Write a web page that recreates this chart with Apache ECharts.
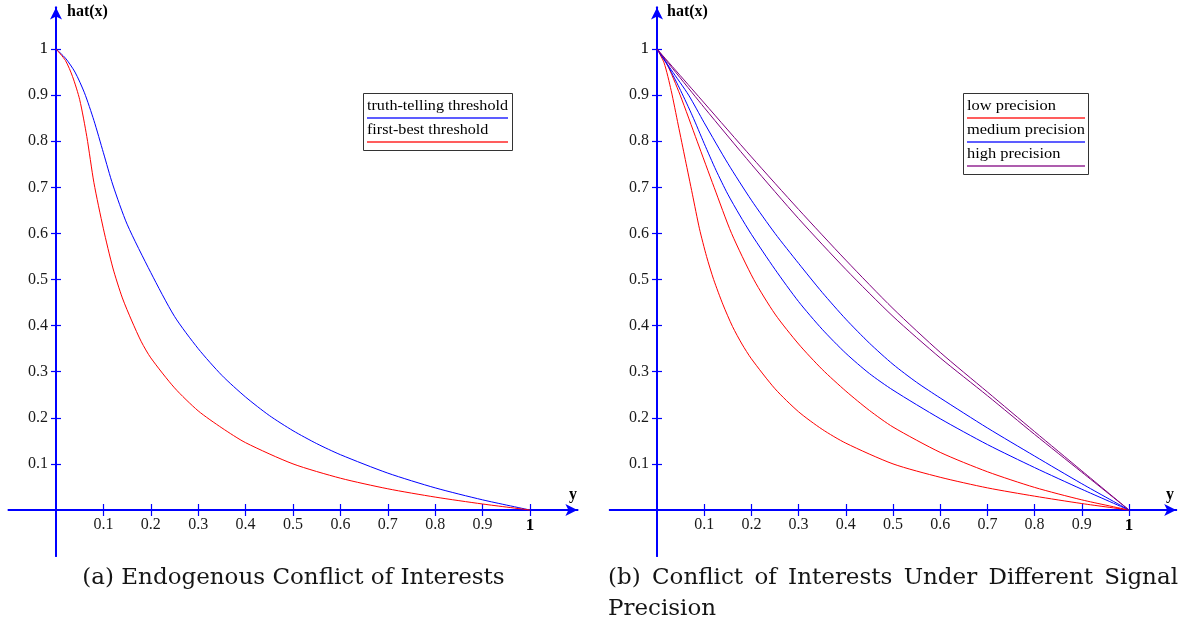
<!DOCTYPE html>
<html>
<head>
<meta charset="utf-8">
<script src="https://cdn.jsdelivr.net/npm/echarts@6/dist/echarts.min.js"></script>
<style>
html,body{margin:0;padding:0;background:#ffffff;}
#chart{width:1190px;height:630px;}
</style>
</head>
<body>
<div id="chart"></div>
<script>
// ---------- text ----------
const xTickLabels = ['0.1','0.2','0.3','0.4','0.5','0.6','0.7','0.8','0.9','1'];
const yTickLabels = ['0.1','0.2','0.3','0.4','0.5','0.6','0.7','0.8','0.9','1'];
const yAxisName = 'hat(x)';
const xAxisName = 'y';
const legendA = ['truth-telling threshold', 'first-best threshold'];
const legendB = ['low precision', 'medium precision', 'high precision'];
const captionA = '(a) Endogenous Conflict of Interests';
const captionB1 = '(b) Conflict of Interests Under Different Signal';
const captionB2 = 'Precision';

// ---------- data: panel (a)  [y, hat(x)] ----------
const truthTelling = [[0,1],[0.02,0.98],[0.04,0.95],[0.06,0.905],[0.08,0.845],[0.1,0.775],[0.12,0.705],[0.15,0.62],[0.2,0.515],[0.25,0.42],[0.3,0.35],[0.35,0.292],[0.4,0.245],[0.45,0.205],[0.5,0.172],[0.55,0.144],[0.6,0.12],[0.7,0.08],[0.8,0.048],[0.9,0.022],[1,0]];
const firstBest = [[0,1],[0.02,0.975],[0.035,0.94],[0.05,0.89],[0.065,0.81],[0.08,0.71],[0.1,0.61],[0.12,0.525],[0.14,0.46],[0.16,0.41],[0.18,0.365],[0.2,0.33],[0.25,0.265],[0.3,0.215],[0.35,0.178],[0.4,0.146],[0.5,0.1],[0.6,0.069],[0.7,0.046],[0.8,0.028],[0.9,0.013],[1,0]];

// ---------- data: panel (b)  [y, hat(x)] ----------
const lowFirstBest = [[0,1],[0.015,0.97],[0.03,0.91],[0.045,0.835],[0.06,0.76],[0.075,0.685],[0.09,0.61],[0.105,0.55],[0.12,0.5],[0.14,0.445],[0.16,0.398],[0.18,0.36],[0.2,0.328],[0.25,0.263],[0.3,0.213],[0.35,0.175],[0.4,0.145],[0.5,0.1],[0.6,0.071],[0.7,0.048],[0.8,0.03],[0.9,0.014],[1,0]];
const lowTruth = [[0,1],[0.02,0.97],[0.049,0.9],[0.085,0.8],[0.121,0.7],[0.158,0.6],[0.205,0.5],[0.25,0.425],[0.3,0.36],[0.35,0.305],[0.4,0.258],[0.45,0.216],[0.5,0.18],[0.6,0.125],[0.7,0.083],[0.8,0.049],[0.9,0.022],[1,0]];
const mediumFirstBest = [[0,1],[0.025,0.96],[0.05,0.91],[0.075,0.855],[0.1,0.795],[0.125,0.737],[0.15,0.685],[0.175,0.64],[0.2,0.598],[0.25,0.522],[0.3,0.452],[0.35,0.392],[0.4,0.34],[0.45,0.296],[0.5,0.26],[0.6,0.198],[0.7,0.142],[0.8,0.092],[0.9,0.045],[1,0]];
const mediumTruth = [[0,1],[0.03,0.955],[0.067,0.9],[0.1,0.84],[0.15,0.752],[0.2,0.672],[0.25,0.6],[0.3,0.535],[0.35,0.472],[0.4,0.414],[0.45,0.362],[0.5,0.316],[0.55,0.277],[0.6,0.243],[0.7,0.178],[0.8,0.117],[0.9,0.057],[1,0]];
const highFirstBest = [[0,1],[0.1,0.873],[0.2,0.75],[0.3,0.632],[0.4,0.522],[0.5,0.42],[0.6,0.33],[0.7,0.248],[0.8,0.164],[0.9,0.082],[1,0]];
const highTruth = [[0,1],[0.1,0.883],[0.2,0.766],[0.3,0.652],[0.4,0.542],[0.5,0.437],[0.6,0.342],[0.7,0.256],[0.8,0.17],[0.9,0.085],[1,0]];

// ---------- styling ----------
const RED = '#ff0000', BLUE = '#0000ff', PURPLE = '#800080', AXIS = '#0000ff';
const SERIF = '"Liberation Serif","Times New Roman",serif';
const CAPFONT = '"DejaVu Serif",serif';
const LABEL_COLOR = '#1a1a1a';

const xTickVals = xTickLabels.map(Number);
const yTickVals = yTickLabels.map(Number);

function labelFmt(labels, vals) {
  return function (v) {
    const i = vals.findIndex(t => Math.abs(t - v) < 1e-9);
    if (i < 0) return '';
    return labels[i] === '1' ? '{one|1}' : labels[i];
  };
}

const X_MIN = -0.1, X_MAX = 1.1, Y_MIN = -0.1, Y_MAX = 1.09;
// panel geometry: pixel position of the origin and pixels per unit
const panels = [
  {ox: 56, oy: 510, xu: 474, yu: 461},
  {ox: 657, oy: 510, xu: 472, yu: 461}
];

const grids = [], xAxes = [], yAxes = [], mainAxisIdx = [];
panels.forEach((p) => {
  const gL = grids.length;
  grids.push({left: p.ox + X_MIN * p.xu, top: p.oy - Y_MAX * p.yu, width: (X_MAX - X_MIN) * p.xu, height: (Y_MAX - Y_MIN) * p.yu,
    containLabel: false, outerBoundsMode: 'none'});
  const gP = grids.length;
  grids.push({left: p.ox, top: p.oy - Y_MAX * p.yu, width: X_MAX * p.xu, height: Y_MAX * p.yu,
    containLabel: false, outerBoundsMode: 'none'});

  const xMain = xAxes.length, yMain = yAxes.length;
  mainAxisIdx.push([xMain, yMain]);
  const tickStyle = {color: AXIS, width: 1.2};
  xAxes.push({
    gridIndex: gL, type: 'value', min: X_MIN, max: X_MAX, position: 'bottom',
    axisLine: {show: true, onZero: true, onZeroAxisIndex: yMain, symbol: ['none','arrow'], symbolSize: [9, 12], lineStyle: {color: AXIS, width: 2}},
    axisTick: {show: true, customValues: xTickVals, length: 6, lineStyle: tickStyle},
    axisLabel: {show: false}, splitLine: {show: false}
  });
  xAxes.push({
    gridIndex: gL, type: 'value', min: X_MIN, max: X_MAX, position: 'top',
    axisLine: {show: true, onZero: true, onZeroAxisIndex: yMain, lineStyle: {color: AXIS, width: 2}},
    axisTick: {show: true, customValues: xTickVals, length: 6, lineStyle: tickStyle},
    axisLabel: {show: false}, splitLine: {show: false}
  });
  xAxes.push({
    gridIndex: gP, type: 'value', min: 0, max: X_MAX, position: 'bottom',
    axisLine: {show: false, onZero: false}, axisTick: {show: false},
    axisLabel: {show: true, customValues: xTickVals, formatter: labelFmt(xTickLabels, xTickVals), margin: 7,
      color: LABEL_COLOR, fontFamily: SERIF, fontSize: 16,
      rich: {one: {fontFamily: SERIF, fontSize: 17, color: '#000', fontWeight: 'bold'}}},
    splitLine: {show: false}
  });
  yAxes.push({
    gridIndex: gL, type: 'value', min: Y_MIN, max: Y_MAX, position: 'left',
    axisLine: {show: true, onZero: true, onZeroAxisIndex: xMain, symbol: ['none','arrow'], symbolSize: [9, 12], lineStyle: {color: AXIS, width: 2}},
    axisTick: {show: true, customValues: yTickVals, length: 5, lineStyle: tickStyle},
    axisLabel: {show: false}, splitLine: {show: false}
  });
  yAxes.push({
    gridIndex: gL, type: 'value', min: Y_MIN, max: Y_MAX, position: 'right',
    axisLine: {show: true, onZero: true, onZeroAxisIndex: xMain, lineStyle: {color: AXIS, width: 2}},
    axisTick: {show: true, customValues: yTickVals, length: 5, lineStyle: tickStyle},
    axisLabel: {show: false}, splitLine: {show: false}
  });
  yAxes.push({
    gridIndex: gP, type: 'value', min: 0, max: Y_MAX, position: 'left',
    axisLine: {show: false, onZero: false}, axisTick: {show: false},
    axisLabel: {show: true, customValues: yTickVals, formatter: labelFmt(yTickLabels, yTickVals), margin: 8,
      color: LABEL_COLOR, fontFamily: SERIF, fontSize: 16,
      rich: {one: {fontFamily: SERIF, fontSize: 17, color: '#000'}}},
    splitLine: {show: false}
  });
});

function curve(data, color, pi) {
  return {
    type: 'line', data: data, xAxisIndex: mainAxisIdx[pi][0], yAxisIndex: mainAxisIdx[pi][1],
    showSymbol: false, symbol: 'none', smooth: 0.25,
    lineStyle: {color: color, width: 1}, silent: true, clip: false, z: 5
  };
}

const series = [
  curve(truthTelling, BLUE, 0),
  curve(firstBest, RED, 0),
  curve(lowFirstBest, RED, 1),
  curve(lowTruth, RED, 1),
  curve(mediumFirstBest, BLUE, 1),
  curve(mediumTruth, BLUE, 1),
  curve(highFirstBest, PURPLE, 1),
  curve(highTruth, PURPLE, 1)
];

// ---------- graphics: legends, axis names, captions ----------
const measureCtx = document.createElement('canvas').getContext('2d');
function measure(text, font) { measureCtx.font = font; return measureCtx.measureText(text).width; }

const boxes = [], lines = [], texts = [];
function txt(x, y, text, font, align, vAlign, color, scaleX) {
  texts.push({type: 'text', x: x, y: y, scaleX: scaleX || 1,
    style: {text: text, font: font, fill: color || '#000', align: align || 'left', verticalAlign: vAlign || 'middle'}});
}
function hline(x1, x2, y, color) {
  lines.push({type: 'line', shape: {x1: x1, y1: y, x2: x2, y2: y}, style: {stroke: color, lineWidth: 1.5, opacity: 0.85}});
}
function box(x, y, w, h) {
  boxes.push({type: 'rect', shape: {x: x, y: y, width: w, height: h}, style: {fill: '#fff', stroke: '#333', lineWidth: 1}});
}

const LEG_FONT = '14px ' + SERIF;
// legend (a)
box(363.5, 93.5, 149, 57);
const scaleA = 141 / measure(legendA[0], LEG_FONT);
const legendAColors = [BLUE, RED];
legendA.forEach((t, i) => {
  txt(367, 106 + i * 24, t, LEG_FONT, 'left', 'middle', '#000', scaleA);
  hline(367, 508, 118 + i * 24, legendAColors[i]);
});
// legend (b)
box(963.5, 93.5, 125, 81);
const scaleB = 118 / measure(legendB[1], LEG_FONT);
const legendBColors = [RED, BLUE, PURPLE];
legendB.forEach((t, i) => {
  txt(967, 106 + i * 24, t, LEG_FONT, 'left', 'middle', '#000', scaleB);
  hline(967, 1085, 118 + i * 24, legendBColors[i]);
});

// axis names
txt(67, 12, yAxisName, 'bold 16px ' + SERIF);
txt(667, 12, yAxisName, 'bold 16px ' + SERIF);
txt(573, 495, xAxisName, 'bold 16px ' + SERIF, 'center');
txt(1170, 495, xAxisName, 'bold 16px ' + SERIF, 'center');

// captions
const CAP = '23px ' + CAPFONT;
txt(293.5, 578, captionA, CAP, 'center', 'middle', '#151515');
(function justify(line, x0, x1, y) {
  const words = line.split(' ');
  const widths = words.map(w => measure(w, CAP));
  const total = widths.reduce((a, b) => a + b, 0);
  const gap = (x1 - x0 - total) / (words.length - 1);
  let x = x0;
  words.forEach((w, i) => { txt(x, y, w, CAP, 'left', 'middle', '#151515'); x += widths[i] + gap; });
})(captionB1, 608, 1178, 578);
txt(608, 609, captionB2, CAP, 'left', 'middle', '#151515');

const graphic = boxes.concat(lines, texts);

const chart = echarts.init(document.getElementById('chart'), null, {renderer: 'canvas'});
chart.setOption({
  animation: false,
  backgroundColor: '#ffffff',
  grid: grids,
  xAxis: xAxes,
  yAxis: yAxes,
  series: series,
  graphic: graphic
});
</script>
</body>
</html>
